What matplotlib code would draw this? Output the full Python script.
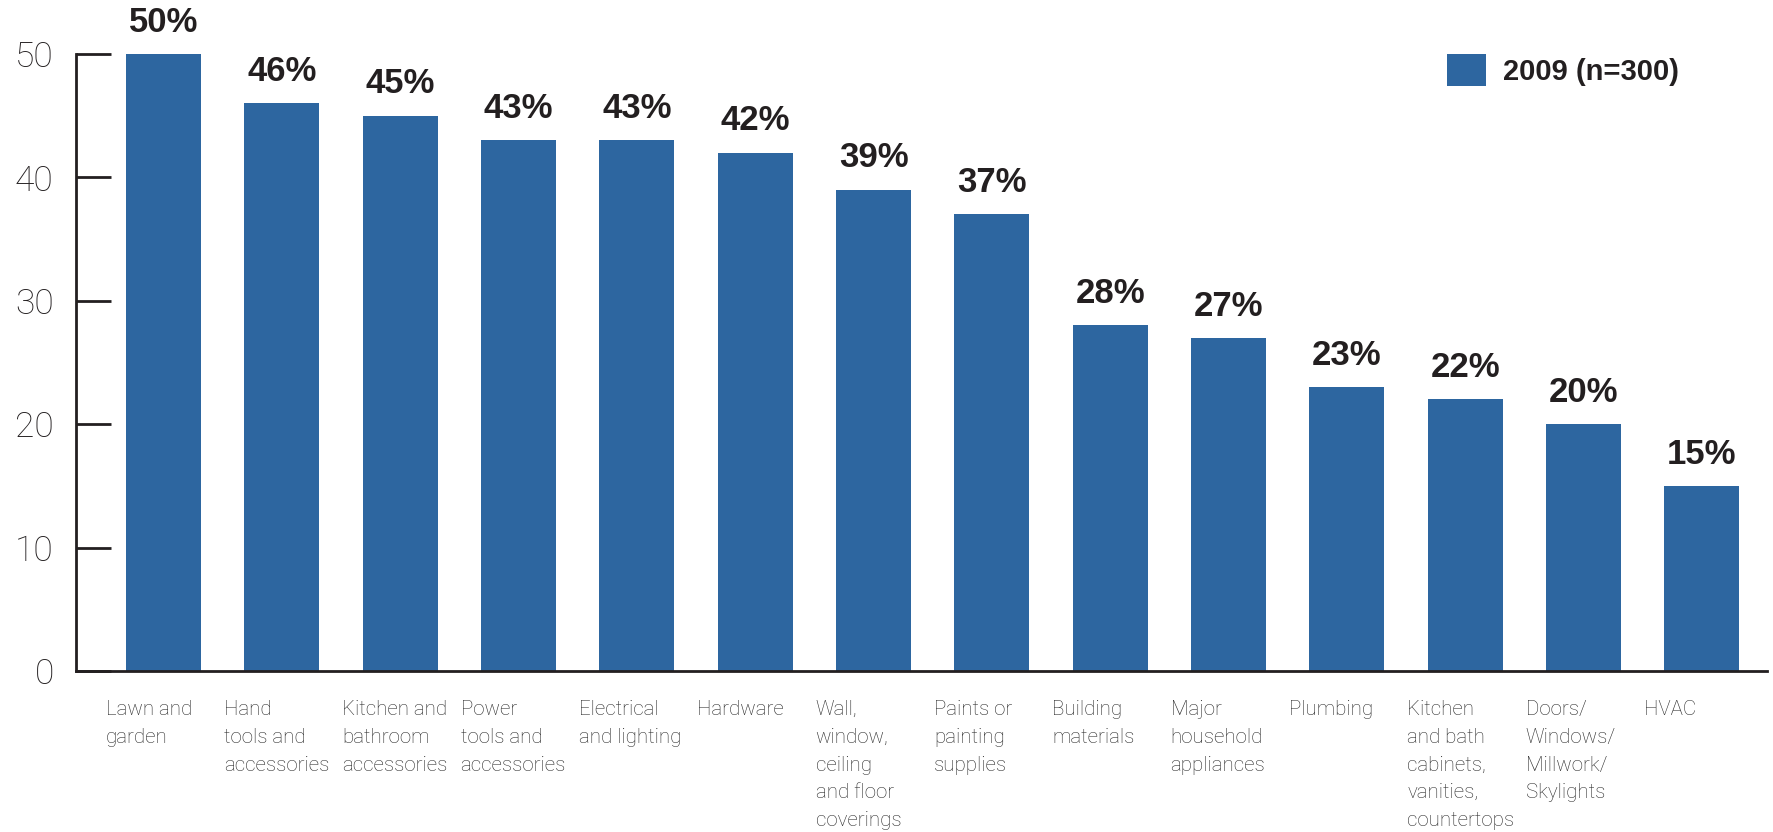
import numpy as np
import matplotlib
matplotlib.use('Agg')
import matplotlib.pyplot as plt

categories = ['Lawn and\ngarden', 'Hand\ntools and\naccessories', 'Kitchen and\nbathroom\naccessories',
              'Power\ntools and\naccessories', 'Electrical\nand lighting', 'Hardware',
              'Wall,\nwindow,\nceiling\nand floor\ncoverings', 'Paints or\npainting\nsupplies',
              'Building\nmaterials', 'Major\nhousehold\nappliances', 'Plumbing',
              'Kitchen\nand bath\ncabinets,\nvanities,\ncountertops', 'Doors/\nWindows/\nMillwork/\nSkylights',
              'HVAC']
values = [50, 46, 45, 43, 43, 42, 39, 37, 28, 27, 23, 22, 20, 15]
yticks = [0, 10, 20, 30, 40, 50]
series_name = '2009 (n=300)'

blue = '#2d66a0'
dark = '#231f20'

fig = plt.figure(figsize=(17.73, 8.32), dpi=100)
ax = fig.add_axes([76/1773, 161/832, (1767-76)/1773, 671/832])

x = np.arange(len(values))
ax.bar(x, values, width=0.635, color=blue, label=series_name, zorder=2)

ax.set_xlim(-0.74, len(values) - 1 + 0.55)
ax.set_ylim(0, 54.37)

for s in ['top', 'right']:
    ax.spines[s].set_visible(False)
ax.spines['left'].set_bounds(0, 50)
for s in ['left', 'bottom']:
    ax.spines[s].set_linewidth(2)
    ax.spines[s].set_color(dark)

ax.set_yticks(yticks)
ax.set_yticklabels([str(t) for t in yticks], fontsize=25.5, color=dark,
                   family=['Roboto', 'DejaVu Sans'], fontweight='light')
ax.tick_params(axis='y', direction='in', length=25, width=2, color=dark, pad=16)
ax.set_xticks([])

for xi, v in zip(x, values):
    ax.annotate(f'{v}%', xy=(xi, v), xytext=(0, 11), textcoords='offset points',
                ha='center', va='bottom', fontsize=25, fontweight='bold',
                color=dark, family=['Liberation Sans', 'DejaVu Sans'])

for xi, lab in zip(x, categories):
    ax.annotate(lab, xy=(xi - 0.49, 0), xytext=(0, -21), textcoords='offset points',
                ha='left', va='top', fontsize=14.8, color='#2a2a2a', linespacing=1.58,
                family=['Roboto', 'DejaVu Sans'], fontweight='light',
                annotation_clip=False)

leg = ax.legend(loc='upper left', bbox_to_anchor=(1447/1773, 1 - 54/832),
                bbox_transform=fig.transFigure, frameon=False, borderpad=0,
                borderaxespad=0, handlelength=1.33, handleheight=1.33,
                handletextpad=0.58, prop={'family': 'Liberation Sans', 'weight': 'bold', 'size': 21})
for t in leg.get_texts():
    t.set_color(dark)

fig.savefig('out.png', dpi=100)
